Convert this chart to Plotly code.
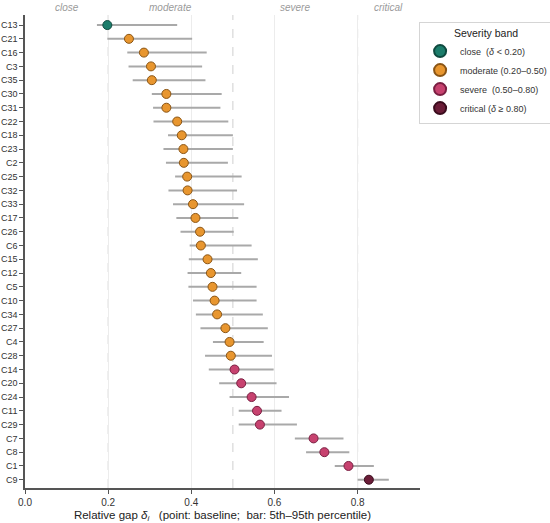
import plotly.graph_objects as go

# data (top row first)
labels = ['C13', 'C21', 'C16', 'C3', 'C35', 'C30', 'C31', 'C22', 'C18', 'C23',
          'C2', 'C25', 'C32', 'C33', 'C17', 'C26', 'C6', 'C15', 'C12', 'C5',
          'C10', 'C34', 'C27', 'C4', 'C28', 'C14', 'C20', 'C24', 'C11', 'C29',
          'C7', 'C8', 'C1', 'C9']
baseline = [0.198, 0.250, 0.286, 0.303, 0.305, 0.340, 0.340, 0.366, 0.377, 0.381,
            0.382, 0.390, 0.391, 0.404, 0.410, 0.421, 0.423, 0.439, 0.447, 0.451,
            0.456, 0.462, 0.482, 0.492, 0.495, 0.504, 0.520, 0.545, 0.558, 0.565,
            0.694, 0.720, 0.778, 0.827]
p05 = [0.173, 0.198, 0.246, 0.249, 0.259, 0.305, 0.308, 0.309, 0.344, 0.333,
       0.339, 0.361, 0.345, 0.356, 0.364, 0.374, 0.396, 0.394, 0.391, 0.393,
       0.404, 0.411, 0.422, 0.452, 0.433, 0.442, 0.467, 0.492, 0.514, 0.514,
       0.649, 0.676, 0.745, 0.800]
p95 = [0.366, 0.402, 0.437, 0.426, 0.434, 0.473, 0.470, 0.489, 0.500, 0.500,
       0.488, 0.521, 0.510, 0.527, 0.513, 0.502, 0.545, 0.560, 0.520, 0.557,
       0.557, 0.572, 0.584, 0.574, 0.594, 0.598, 0.605, 0.635, 0.617, 0.654,
       0.766, 0.780, 0.839, 0.875]

bands = ['close', 'moderate', 'severe', 'critical']
band_edges = [0.2, 0.5, 0.8]
band_mid = [0.1, 0.35, 0.65, 0.875]
band_names = ['close  (<i>δ</i> < 0.20)', 'moderate (0.20–0.50)',
              'severe  (0.50–0.80)', 'critical (<i>δ</i> ≥ 0.80)']
band_colors = ['#1c7d6b', '#e8962f', '#c7426f', '#6b1d38']
band_edge_colors = ['#0f4a3f', '#8a5515', '#7a1f42', '#3a0c1d']


def band_of(v):
    if v < 0.2:
        return 0
    if v < 0.5:
        return 1
    if v < 0.8:
        return 2
    return 3


ypos = list(range(len(labels)))

fig = go.Figure()

# 5th-95th percentile bars
fig.add_trace(go.Scatter(
    x=baseline, y=ypos, mode='markers',
    marker=dict(size=1, color='rgba(0,0,0,0)'),
    error_x=dict(type='data', symmetric=False,
                 array=[h - b for h, b in zip(p95, baseline)],
                 arrayminus=[b - l for b, l in zip(baseline, p05)],
                 color='#a9a9a9', thickness=2, width=0),
    showlegend=False, hoverinfo='skip'
))

for k, name in enumerate(bands):
    idx = [i for i, v in enumerate(baseline) if band_of(v) == k]
    fig.add_trace(go.Scatter(
        x=[baseline[i] for i in idx],
        y=[ypos[i] for i in idx],
        mode='markers',
        name=band_names[k],
        marker=dict(size=9, color=band_colors[k],
                    line=dict(color=band_edge_colors[k], width=1)),
    ))

for e in band_edges:
    fig.add_shape(type='line', x0=e, x1=e, y0=0, y1=1, yref='paper',
                  line=dict(color='#cfcfcf', width=1, dash='dash'), layer='below')

for name, m in zip(bands, band_mid):
    fig.add_annotation(x=m, y=1.0, yref='paper', text='<i>' + name + '</i>',
                       showarrow=False, yanchor='bottom',
                       font=dict(size=10, color='#9a9a9a'))

fig.update_layout(
    width=550, height=523,
    margin=dict(l=25, r=130, t=15, b=35, autoexpand=False),
    paper_bgcolor='white', plot_bgcolor='white',
    font=dict(family='Liberation Sans, Arial, sans-serif', size=10, color='#333'),
    legend=dict(title=dict(text='Severity band', font=dict(size=10.5, color='#222'),
                           side='top center'),
                xref='container', yref='container',
                x=0.762, y=0.958, xanchor='left', yanchor='top',
                bordercolor='#d5d5d5', borderwidth=1, bgcolor='white',
                font=dict(size=9, color='#333'), itemsizing='constant',
                itemwidth=30, tracegroupgap=0),
    xaxis=dict(range=[0, 0.95], tickvals=[0, 0.2, 0.4, 0.6, 0.8],
               ticktext=['0.0', '0.2', '0.4', '0.6', '0.8'],
               showgrid=True, gridcolor='#ececec', gridwidth=1,
               zeroline=False, showline=True, linecolor='#555', linewidth=1.5,
               ticks='outside', ticklen=4, tickcolor='#555',
               tickfont=dict(size=10, color='#333'), automargin=False,
               title=dict(text='Relative gap <i>δ<sub>i</sub></i>   (point: baseline;  bar: 5th–95th percentile)',
                          font=dict(size=11.5, color='#222'), standoff=6)),
    yaxis=dict(range=[33.6, -0.73], tickvals=ypos, ticktext=labels,
               showgrid=False, zeroline=False, showline=True, linecolor='#555',
               linewidth=1.5, ticks='outside', ticklen=4, tickcolor='#555',
               tickfont=dict(size=9, color='#333'), automargin=False),
)

# the page body has a default 8px margin; drop it so the figure sits at the corner
fig.write_html("out.html", config={'displayModeBar': False},
               post_script="document.body.style.margin='0';")
